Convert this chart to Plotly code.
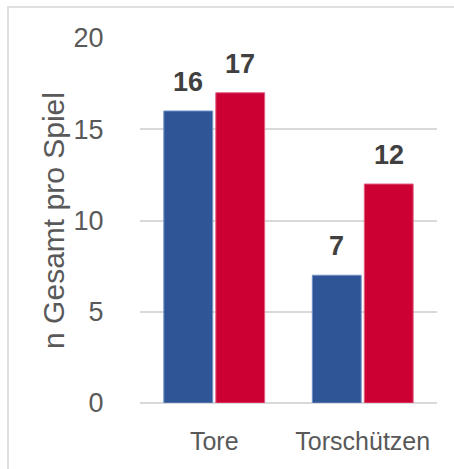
import plotly.graph_objects as go

categories = ["Tore", "Torschützen"]
series_a = [16, 7]
series_b = [17, 12]
y_ticks = [0, 5, 10, 15, 20]

BLUE = "#2F5597"
RED = "#CC0033"
GRID = "#D9D9D9"
TXT = "#595959"
LBL = "#404040"
FONT = "Liberation Sans, Arial, sans-serif"

W, H = 454, 469
PLOT_L, PLOT_T, PLOT_R, PLOT_B = 140, 38, 437, 403
ML, MT = PLOT_L, PLOT_T
MR = W - PLOT_R
MB = H - PLOT_B
BARGAP = 0.30
plot_w = W - ML - MR
plot_h = H - MT - MB
slot_px = plot_w / len(categories) * (1 - BARGAP) / 2

fig = go.Figure()
fig.add_trace(go.Bar(x=categories, y=series_a, marker=dict(color=BLUE, line=dict(color="#6F8FC4", width=1)), name="A"))
fig.add_trace(go.Bar(x=categories, y=series_b, marker=dict(color=RED, line=dict(color="#E06080", width=1)), name="B"))

annotations = []
for vals, shift in ((series_a, -slot_px / 2), (series_b, slot_px / 2)):
    for c, v in zip(categories, vals):
        annotations.append(dict(x=c, y=v, xref="x", yref="y", text=f"<b>{v}</b>",
                                showarrow=False, yanchor="bottom", xshift=shift, yshift=12,
                                font=dict(family=FONT, size=27, color=LBL)))

fig.update_layout(
    width=W, height=H,
    margin=dict(l=ML, r=MR, t=MT, b=MB),
    paper_bgcolor="white", plot_bgcolor="white",
    barmode="group", bargap=BARGAP, bargroupgap=0.06,
    showlegend=False,
    annotations=annotations,
    font=dict(family=FONT, color=TXT),
    xaxis=dict(tickfont=dict(size=25, color=TXT), showgrid=False, showline=False, ticks="outside", ticklen=16,
               tickcolor="rgba(0,0,0,0)"),
    yaxis=dict(range=[0, 20], tickvals=y_ticks, tickfont=dict(size=27, color=TXT),
               showgrid=True, gridcolor=GRID, gridwidth=1.5, zeroline=True, zerolinecolor=GRID, zerolinewidth=1.5,
               ticks="outside", ticklen=30, tickcolor="rgba(0,0,0,0)",
               title=dict(text="n Gesamt pro Spiel", font=dict(size=30, color=TXT), standoff=0)),
    shapes=[dict(type="rect", xref="paper", yref="paper",
                 x0=(8 - ML) / plot_w, x1=1.5,
                 y0=-0.5, y1=1 + (MT - 7) / plot_h,
                 line=dict(color="#E0E0E0", width=2), layer="below")],
)

fig.write_html("out.html", config={"displayModeBar": False},
               post_script="document.body.style.margin='0';")
